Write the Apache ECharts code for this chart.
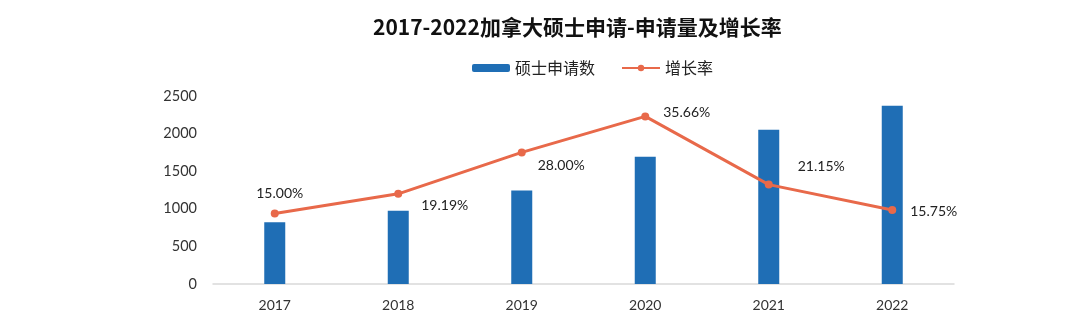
<!DOCTYPE html>
<html><head><meta charset="utf-8">
<script src="https://cdn.jsdelivr.net/npm/echarts@6/dist/echarts.min.js"></script>
<style>html,body{margin:0;padding:0;background:#fff}#c{width:1074px;height:334px}</style>
</head><body><div id="c"></div>
<script>
const categories = ['2017','2018','2019','2020','2021','2022'];
const applications = [820, 975, 1242, 1693, 2050, 2370];
const growthRate = [15.00, 19.19, 28.00, 35.66, 21.15, 15.75];
const leftTicks = [0, 500, 1000, 1500, 2000, 2500];
const labelOffsets = [[5,-4],[14,12],[7,13],[9,-4],[20,-18],[9,2]];
const labelPos = ['top','right','right','right','right','right'];

const chart = echarts.init(document.getElementById('c'));
const numFont = 'Lato, "Noto Sans CJK SC", sans-serif';
chart.setOption({
  animation: false,
  backgroundColor: '#fff',
  title: {
    text: '2017-2022加拿大硕士申请-申请量及增长率',
    left: 368, top: 12,
    textStyle: {fontFamily: '"Noto Sans CJK SC", sans-serif', fontSize: 21, fontWeight: 'bold', color: '#111'}
  },
  legend: {
    top: 55, left: 467,
    itemWidth: 38, itemHeight: 8, itemGap: 26,
    textStyle: {fontFamily: '"Noto Sans CJK SC", sans-serif', fontSize: 16, color: '#222'},
    data: ['硕士申请数', '增长率']
  },
  grid: {left: 213, right: 120, top: 96, bottom: 50},
  xAxis: {
    type: 'category', data: categories,
    axisLine: {lineStyle: {color: '#d9d9d9', width: 1.5}},
    axisTick: {show: false},
    axisLabel: {color: '#333', fontSize: 14, fontFamily: numFont, margin: 14}
  },
  yAxis: [{
    type: 'value', min: 0, max: 2500, interval: 500,
    axisLine: {show: false}, axisTick: {show: false}, splitLine: {show: false},
    axisLabel: {color: '#333', fontSize: 14.5, fontFamily: numFont, margin: 16,
      formatter: v => leftTicks.includes(v) ? String(v) : ''}
  }, {
    type: 'value', min: 0, max: 40, show: false, splitLine: {show: false}
  }],
  series: [{
    name: '硕士申请数', type: 'bar', data: applications, barWidth: 21,
    itemStyle: {color: '#1f6eb5'}
  }, {
    name: '增长率', type: 'line', yAxisIndex: 1,
    data: growthRate.map((v, i) => ({
      value: v,
      label: {show: true, position: labelPos[i], offset: labelOffsets[i]}
    })),
    symbol: 'circle', symbolSize: 8,
    lineStyle: {color: '#e8694a', width: 3},
    itemStyle: {color: '#e8694a'},
    label: {color: '#222', fontSize: 14, fontFamily: numFont,
      formatter: p => p.value.toFixed(2) + '%'}
  }]
});
</script></body></html>
